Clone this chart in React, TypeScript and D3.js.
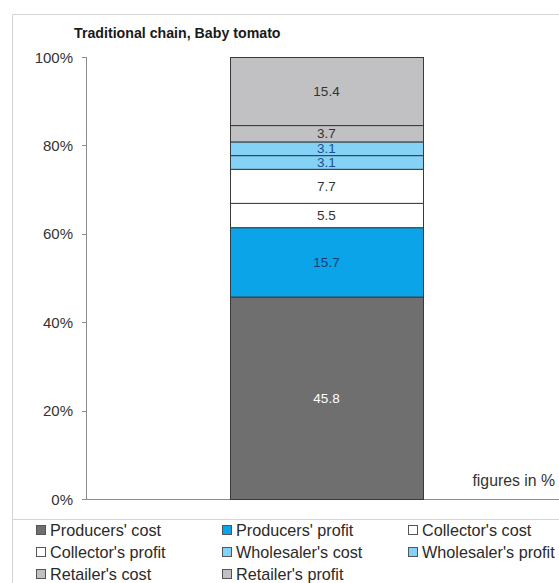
import React from "react";
import * as d3 from "d3";

// Share of the final price captured at each stage of the chain (in %)
const categories = ["Traditional chain, Baby tomato"];
const seriesNames = [
  "Producers' cost",
  "Producers' profit",
  "Collector's cost",
  "Collector's profit",
  "Wholesaler's cost",
  "Wholesaler's profit",
  "Retailer's cost",
  "Retailer's profit",
];
const seriesValues = [45.8, 15.7, 5.5, 7.7, 3.1, 3.1, 3.7, 15.4];
const seriesColors = [
  "#6f6f6f",
  "#0ba4e8",
  "#ffffff",
  "#ffffff",
  "#84d2f6",
  "#84d2f6",
  "#c1c1c3",
  "#c1c1c3",
];
const labelColors = [
  "#ffffff",
  "#17406e",
  "#333333",
  "#333333",
  "#1f4f8c",
  "#1f4f8c",
  "#333333",
  "#333333",
];
const yTicks = [0, 20, 40, 60, 80, 100];
const note = "figures in %";

const W = 559;
const H = 583;
const FONT = "'Liberation Sans', Arial, sans-serif";

export default function App() {
  const plot = { left: 86, right: 567, top: 57, bottom: 499 };

  const y = d3.scaleLinear().domain([0, 100]).range([plot.bottom, plot.top]);
  const x = d3
    .scaleBand<string>()
    .domain(categories)
    .range([plot.left, plot.right])
    .paddingInner(0.427)
    .paddingOuter(0.427);

  const row: Record<string, number> = {};
  seriesNames.forEach((n, i) => (row[n] = seriesValues[i]));
  const stacked = d3.stack<Record<string, number>>().keys(seriesNames)([row]);

  const bx = Math.round(x(categories[0]) as number);
  const bw = Math.round(x.bandwidth());

  const legendCols = [36, 222, 408];
  const legendRows = [530, 552, 574];

  return (
    <svg
      width={W}
      height={H}
      viewBox={`0 0 ${W} ${H}`}
      style={{ position: "absolute", left: 0, top: 0, background: "#fff" }}
      fontFamily={FONT}
    >
      <rect x={0} y={0} width={W} height={H} fill="#ffffff" />
      {/* chart frame */}
      <path d={`M12.5,${H} V14.5 H${W}`} fill="none" stroke="#d4d4d4" strokeWidth={1} />

      {/* title */}
      <text x={74} y={38} fontSize={14.2} fontWeight="bold" fill="#1a1a1a">
        {categories[0]}
      </text>

      {/* value axis */}
      <line x1={plot.left + 0.5} x2={plot.left + 0.5} y1={plot.top} y2={plot.bottom} stroke="#8c8c8c" />
      {yTicks.map((t) => (
        <g key={t}>
          <line x1={plot.left - 4} x2={plot.left} y1={Math.round(y(t)) + 0.5} y2={Math.round(y(t)) + 0.5} stroke="#8c8c8c" />
          <text x={73} y={y(t) + 5.5} fontSize={15} textAnchor="end" fill="#333">
            {t}%
          </text>
        </g>
      ))}
      <line x1={plot.left} x2={W} y1={plot.bottom + 0.5} y2={plot.bottom + 0.5} stroke="#8c8c8c" />

      {/* stacked bar */}
      {stacked.map((s, i) => {
        const [y0, y1] = s[0];
        const top = y(y1);
        const h = y(y0) - y(y1);
        return (
          <g key={s.key}>
            <rect
              x={bx + 0.5}
              y={top + 0.5}
              width={bw}
              height={h}
              fill={seriesColors[i]}
              stroke="#3a3a3a"
              strokeWidth={1}
            />
            <text
              x={bx + bw / 2}
              y={top + h / 2 + 5}
              fontSize={13.5}
              textAnchor="middle"
              fill={labelColors[i]}
            >
              {seriesValues[i].toFixed(1)}
            </text>
          </g>
        );
      })}

      <text x={555} y={486} fontSize={15.8} textAnchor="end" fill="#333">
        {note}
      </text>

      {/* legend */}
      <line x1={12} x2={W} y1={519.5} y2={519.5} stroke="#d4d4d4" />
      {seriesNames.map((n, i) => {
        const cx = legendCols[i % 3];
        const cy = legendRows[Math.floor(i / 3)];
        return (
          <g key={n}>
            <rect
              x={cx + 0.5}
              y={cy - 4.5}
              width={9}
              height={9}
              fill={seriesColors[i]}
              stroke="#555"
              strokeWidth={1}
            />
            <text x={cx + 14} y={cy + 6} fontSize={16.2} fill="#2a2a2a">
              {n}
            </text>
          </g>
        );
      })}
    </svg>
  );
}
